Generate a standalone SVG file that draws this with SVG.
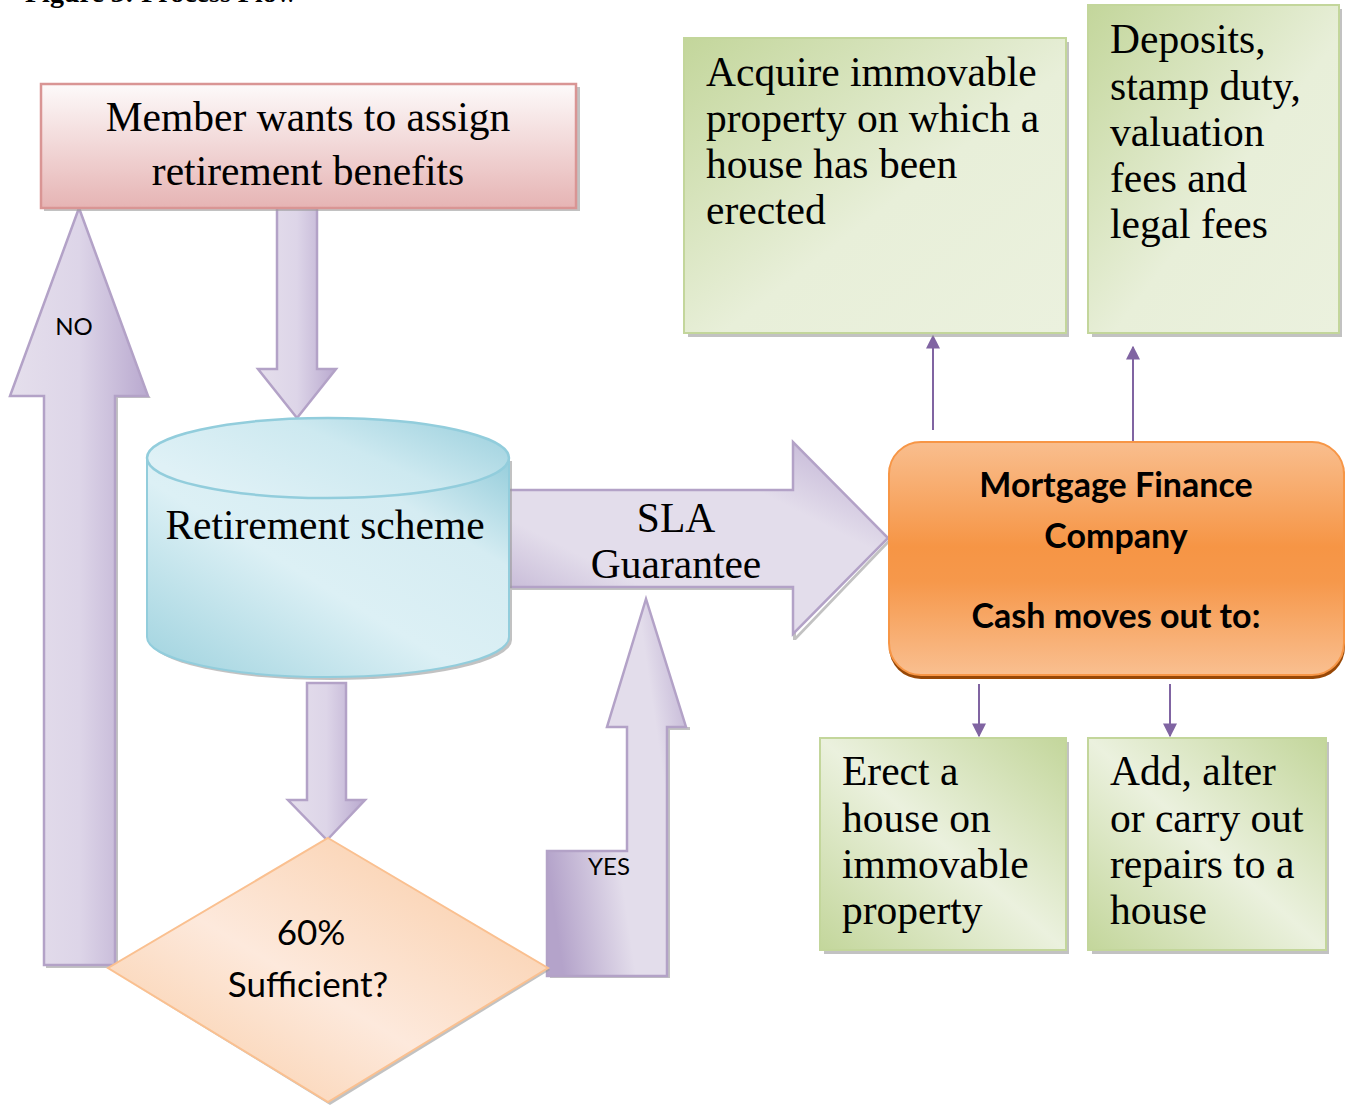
<svg xmlns="http://www.w3.org/2000/svg" width="1351" height="1105" viewBox="0 0 1351 1105">
<style>
.serif{font-family:"Liberation Serif","Times New Roman",serif;fill:#000}
.sans{font-family:Lato,"Liberation Sans",sans-serif;fill:#000}
.big{font-size:41.5px}
.purple{fill:url(#gPurple);stroke:#b3a2c7;stroke-width:2.5;stroke-linejoin:miter}
.green{stroke:#c3d69b;stroke-width:2}
.shadow{fill:#9a9a9a;opacity:0.6}
.conn{stroke:#8064a2;stroke-width:2;fill:none}
</style>
<defs>
<linearGradient id="gPink" x1="0" y1="0" x2="0" y2="1">
<stop offset="0" stop-color="#fdfafa"/><stop offset="1" stop-color="#e6b4b4"/>
</linearGradient>
<linearGradient id="gPurple" x1="0" y1="0" x2="1" y2="0">
<stop offset="0" stop-color="#e5dfec"/><stop offset="0.5" stop-color="#ddd5e8"/><stop offset="1" stop-color="#b9a9cf"/>
</linearGradient>
<linearGradient id="gPurpleH" x1="0" y1="1" x2="1" y2="0">
<stop offset="0" stop-color="#b7a7cc"/><stop offset="0.3" stop-color="#e3ddeb"/><stop offset="0.7" stop-color="#e3ddeb"/><stop offset="1" stop-color="#b9a9cf"/>
</linearGradient>
<linearGradient id="gPurpleY" x1="0" y1="0.7" x2="1" y2="0.3">
<stop offset="0" stop-color="#b4a3ca"/><stop offset="0.45" stop-color="#e3ddeb"/><stop offset="0.8" stop-color="#e3ddeb"/><stop offset="1" stop-color="#c8bcd9"/>
</linearGradient>
<linearGradient id="gCyl" x1="0" y1="1" x2="1" y2="0">
<stop offset="0" stop-color="#9ed2de"/><stop offset="0.45" stop-color="#dcf0f5"/><stop offset="0.75" stop-color="#d5ecf2"/><stop offset="1" stop-color="#95cddb"/>
</linearGradient>
<linearGradient id="gCylTop" x1="0" y1="0.5" x2="1" y2="0">
<stop offset="0" stop-color="#dff1f6"/><stop offset="0.5" stop-color="#cde9f0"/><stop offset="1" stop-color="#98cedc"/>
</linearGradient>
<linearGradient id="gDiamond" x1="0" y1="1" x2="1" y2="0">
<stop offset="0" stop-color="#f9c99f"/><stop offset="0.45" stop-color="#fde9dc"/><stop offset="1" stop-color="#f9c9a0"/>
</linearGradient>
<linearGradient id="gOrange" x1="0" y1="0" x2="0" y2="1">
<stop offset="0" stop-color="#f9be8e"/><stop offset="0.45" stop-color="#f69545"/><stop offset="0.6" stop-color="#f6984b"/><stop offset="1" stop-color="#f9bf90"/>
</linearGradient>
<linearGradient id="gGreen" x1="0" y1="1" x2="1" y2="0">
<stop offset="0" stop-color="#c3d69b"/><stop offset="0.5" stop-color="#ebf1de"/><stop offset="1" stop-color="#c3d69b"/>
</linearGradient>
<linearGradient id="gGreen2" x1="1" y1="1" x2="0" y2="0">
<stop offset="0" stop-color="#ebf1de"/><stop offset="0.45" stop-color="#e8efd9"/><stop offset="1" stop-color="#c3d69b"/>
</linearGradient>
<marker id="ah" viewBox="0 0 10 10" refX="9" refY="5" markerWidth="7" markerHeight="7" orient="auto" markerUnits="strokeWidth">
<path d="M0,0 L10,5 L0,10 z" fill="#8064a2"/>
</marker>
</defs>

<text class="serif" x="25" y="2" font-size="28" font-weight="bold">Figure 3: Process Flow</text>

<g id="connectors">
<g id="arrow-no">
<path class="shadow" d="M46,398 L46,968 L118,968 L118,398 L151,398 L148,395 L115,395 L115,965 L47,965 Z"/>
<path class="purple" d="M44,965 L44,396 L10,396 L79,208 L148,396 L115,396 L115,965 Z"/>
<text class="sans" x="74" y="335" font-size="24" text-anchor="middle">NO</text>
</g>
<g id="arrow-down-1">
<path class="purple" d="M277,208 L317,208 L317,369 L336,369 L297,418 L258,369 L277,369 Z"/>
</g>
<g id="arrow-sla">
<path class="shadow" d="M512,587 L796,587 L796,636 L888,540 L890,542 L796,640 L793,640 L793,590 L512,590 Z"/>
<path style="fill:url(#gPurpleH);stroke:#b3a2c7;stroke-width:2.5" d="M509,490 L793,490 L793,442 L888,538 L793,634 L793,587 L509,587 Z"/>
<text class="serif big" x="676" y="532" text-anchor="middle">SLA</text>
<text class="serif big" x="676" y="578" text-anchor="middle">Guarantee</text>
</g>
<g id="arrow-down-2">
<path class="purple" d="M307,683 L346,683 L346,800 L365,800 L327,840 L288,800 L307,800 Z"/>
</g>
<g id="arrow-yes">
<path class="shadow" d="M550,978 L670,978 L670,730 L690,730 L690,727 L667,727 L667,975 L550,975 Z"/>
<path style="fill:url(#gPurpleY);stroke:#b3a2c7;stroke-width:2.5" d="M547,976 L547,851 L627,851 L627,727 L607,727 L646,599 L686,727 L667,727 L667,976 Z"/>
<text class="sans" x="609" y="875" font-size="24" text-anchor="middle">YES</text>
</g>
<line class="conn" x1="933" y1="430" x2="933" y2="336" marker-end="url(#ah)"/>
<line class="conn" x1="1133" y1="441" x2="1133" y2="347" marker-end="url(#ah)"/>
<line class="conn" x1="979" y1="684" x2="979" y2="736" marker-end="url(#ah)"/>
<line class="conn" x1="1170" y1="684" x2="1170" y2="736" marker-end="url(#ah)"/>
</g>

<g id="node-member">
<rect class="shadow" x="44" y="87" width="536" height="124"/>
<rect x="41" y="84" width="535" height="124" fill="url(#gPink)" stroke="#d99594" stroke-width="2.5"/>
<text class="serif big" x="308" y="131" text-anchor="middle">Member wants to assign</text>
<text class="serif big" x="308" y="185" text-anchor="middle">retirement benefits</text>
</g>

<g id="node-retirement">
<path class="shadow" d="M150,461 L150,640 A181,40 0 0 0 512,640 L512,461 Z"/>
<path d="M147,458 L147,637 A181,40 0 0 0 509,637 L509,458 Z" fill="url(#gCyl)" stroke="#92cddc" stroke-width="2"/>
<ellipse cx="328" cy="458" rx="181" ry="40" fill="url(#gCylTop)" stroke="#92cddc" stroke-width="2.5"/>
<text class="serif big" x="325" y="539" text-anchor="middle">Retirement scheme</text>
</g>

<g id="node-decision">
<path class="shadow" d="M110,970 L330,1105 L550,970 L548,968 L328,1102 Z"/>
<path d="M328,838 L548,968 L328,1102 L108,968 Z" fill="url(#gDiamond)" stroke="#fac090" stroke-width="2"/>
<text class="sans" x="311" y="945" font-size="35" text-anchor="middle">60%</text>
<text class="sans" x="308" y="997" font-size="35" text-anchor="middle">Sufficient?</text>
</g>

<g id="node-mortgage">
<rect x="889" y="446" width="456" height="233" rx="32" fill="#984807"/>
<rect x="889" y="442" width="455" height="233" rx="32" fill="url(#gOrange)" stroke="#f79646" stroke-width="2"/>
<text class="sans" x="1116" y="497" font-size="34" font-weight="bold" text-anchor="middle">Mortgage Finance</text>
<text class="sans" x="1116" y="548" font-size="34" font-weight="bold" text-anchor="middle">Company</text>
<text class="sans" x="1116" y="628" font-size="34" font-weight="bold" text-anchor="middle">Cash moves out to:</text>
</g>

<g id="node-acquire">
<rect class="shadow" x="688" y="42" width="381" height="295"/>
<rect class="green" x="684" y="38" width="382" height="295" fill="url(#gGreen2)"/>
<text class="serif big" x="706" y="86">Acquire immovable</text>
<text class="serif big" x="706" y="132">property on which a</text>
<text class="serif big" x="706" y="178">house has been</text>
<text class="serif big" x="706" y="224">erected</text>
</g>

<g id="node-deposits">
<rect class="shadow" x="1092" y="9" width="250" height="328"/>
<rect class="green" x="1088" y="5" width="251" height="328" fill="url(#gGreen2)"/>
<text class="serif big" x="1110" y="53">Deposits,</text>
<text class="serif big" x="1110" y="100">stamp duty,</text>
<text class="serif big" x="1110" y="146">valuation</text>
<text class="serif big" x="1110" y="192">fees and</text>
<text class="serif big" x="1110" y="238">legal fees</text>
</g>

<g id="node-erect">
<rect class="shadow" x="824" y="742" width="245" height="212"/>
<rect class="green" x="820" y="738" width="246" height="212" fill="url(#gGreen)"/>
<text class="serif big" x="842" y="785">Erect a</text>
<text class="serif big" x="842" y="832">house on</text>
<text class="serif big" x="842" y="878">immovable</text>
<text class="serif big" x="842" y="924">property</text>
</g>

<g id="node-add">
<rect class="shadow" x="1092" y="742" width="237" height="212"/>
<rect class="green" x="1088" y="738" width="238" height="212" fill="url(#gGreen)"/>
<text class="serif big" x="1110" y="785">Add, alter</text>
<text class="serif big" x="1110" y="832">or carry out</text>
<text class="serif big" x="1110" y="878">repairs to a</text>
<text class="serif big" x="1110" y="924">house</text>
</g>
</svg>
